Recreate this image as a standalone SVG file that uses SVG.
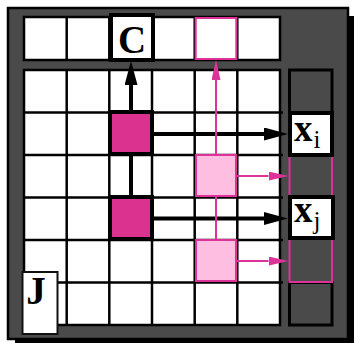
<svg xmlns="http://www.w3.org/2000/svg" width="354" height="343" viewBox="0 0 354 343">
  <style>
    .grid { fill: #ffffff; stroke: #000; stroke-width: 2.5; }
    .gl { stroke: #000; stroke-width: 2.5; }
    .dark { fill: #4a4a4a; stroke: #000; stroke-width: 3; }
    .mag { fill: #db3290; stroke: #000; stroke-width: 4; }
    .lpink { fill: #fdbee2; stroke: #dd3399; stroke-width: 2; }
    .pinkline { fill: none; stroke: #dd3399; stroke-width: 2; }
    .box { fill: #fff; stroke: #000; stroke-width: 4; }
    .big { font-family: "Liberation Serif", "Times New Roman", serif; font-weight: bold; fill: #000; }
    .sub { font-family: "Liberation Serif", "Times New Roman", serif; fill: #000; }
    .barrow { stroke: #000; stroke-width: 4; fill: none; }
    .parrow { stroke: #dd3399; stroke-width: 2; fill: none; }
  </style>
  <defs>
    <marker id="bh" markerUnits="userSpaceOnUse" markerWidth="25" markerHeight="13" refX="0" refY="6.5" orient="auto">
      <path d="M0,0 L24,6.5 L0,13 z" fill="#000"/>
    </marker>
    <marker id="ph" markerUnits="userSpaceOnUse" markerWidth="21" markerHeight="9" refX="0" refY="4.5" orient="auto">
      <path d="M0,0 L20,4.5 L0,9 z" fill="#dd3399"/>
    </marker>
  </defs>

  <!-- shadow and frame -->
  <rect x="15" y="16" width="345" height="335" fill="#000"/>
  <rect x="8" y="8" width="340" height="331" fill="#4a4a4a" stroke="#000" stroke-width="2.5"/>

  <!-- top row -->
  <g id="top-row">
    <rect class="grid" x="24" y="17" width="256" height="43"/>
    <line class="gl" x1="66.7" y1="17" x2="66.7" y2="60"/>
    <line class="gl" x1="109.3" y1="17" x2="109.3" y2="60"/>
    <line class="gl" x1="152" y1="17" x2="152" y2="60"/>
    <line class="gl" x1="194.7" y1="17" x2="194.7" y2="60"/>
    <line class="gl" x1="237.3" y1="17" x2="237.3" y2="60"/>
  </g>

  <!-- main grid -->
  <g id="main-grid">
    <rect class="grid" x="24" y="70" width="256" height="255"/>
    <line class="gl" x1="66.7" y1="70" x2="66.7" y2="325"/>
    <line class="gl" x1="109.3" y1="70" x2="109.3" y2="325"/>
    <line class="gl" x1="152" y1="70" x2="152" y2="325"/>
    <line class="gl" x1="194.7" y1="70" x2="194.7" y2="325"/>
    <line class="gl" x1="237.3" y1="70" x2="237.3" y2="325"/>
    <line class="gl" x1="24" y1="112.5" x2="283" y2="112.5"/>
    <line class="gl" x1="24" y1="155" x2="283" y2="155"/>
    <line class="gl" x1="24" y1="197.5" x2="283" y2="197.5"/>
    <line class="gl" x1="24" y1="240" x2="283" y2="240"/>
    <line class="gl" x1="24" y1="282.5" x2="283" y2="282.5"/>
  </g>

  <!-- right column -->
  <g id="x-column">
    <rect class="dark" x="289.5" y="70" width="42.5" height="42.5"/>
    <rect class="dark" x="289.5" y="282.5" width="42.5" height="42.5"/>
    <rect class="pinkline" x="289.5" y="155" width="42.5" height="127"/>
  </g>

  <!-- connectors -->
  <g id="connectors">
    <line class="barrow" x1="131" y1="112" x2="131" y2="85" marker-end="url(#bh)"/>
    <line class="barrow" x1="131" y1="154" x2="131" y2="197"/>
    <line class="barrow" x1="152" y1="134" x2="264" y2="134" marker-end="url(#bh)"/>
    <line class="barrow" x1="152" y1="218.5" x2="264" y2="218.5" marker-end="url(#bh)"/>
    <line class="parrow" x1="216" y1="155" x2="216" y2="80" marker-end="url(#ph)"/>
    <line class="parrow" x1="216" y1="196" x2="216" y2="240"/>
    <line class="parrow" x1="237" y1="176" x2="268.5" y2="176" marker-end="url(#ph)"/>
    <line class="parrow" x1="237" y1="261" x2="268.5" y2="261" marker-end="url(#ph)"/>
  </g>

  <g id="C">
    <rect class="box" x="111" y="15" width="42" height="45"/>
    <text class="big" x="132" y="53" font-size="39" text-anchor="middle">C</text>
  </g>

  <g id="pink-target">
    <rect x="195.7" y="18" width="40.6" height="41" fill="#fff" stroke="#dd3399" stroke-width="2"/>
  </g>

  <g id="mag1"><rect class="mag" x="110" y="112" width="42" height="42"/></g>
  <g id="mag2"><rect class="mag" x="110" y="197" width="42" height="42"/></g>

  <g id="lp1"><rect class="lpink" x="196" y="155" width="40" height="41"/></g>
  <g id="lp2"><rect class="lpink" x="196" y="240" width="40" height="41"/></g>

  <g id="xi">
    <rect class="box" x="290" y="113" width="42" height="42"/>
    <text x="294" y="141"><tspan class="big" font-size="37">x</tspan><tspan class="sub" font-size="25" dx="1" dy="7">i</tspan></text>
  </g>

  <g id="xj">
    <rect class="box" x="290" y="197" width="43" height="41"/>
    <text x="294" y="222"><tspan class="big" font-size="37">x</tspan><tspan class="sub" font-size="25" dx="1" dy="7">j</tspan></text>
  </g>

  <g id="J">
    <rect x="22.5" y="272" width="35" height="62" fill="#fff" stroke="#111" stroke-width="2"/>
    <text class="big" x="36" y="304" font-size="39" text-anchor="middle">J</text>
  </g>
</svg>
